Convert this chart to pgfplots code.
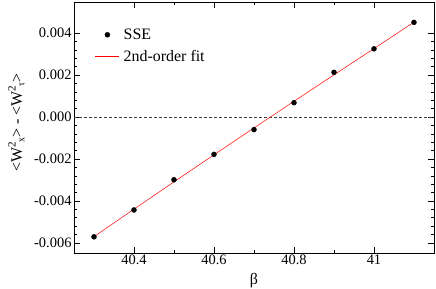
\documentclass[border=0pt]{standalone}
\usepackage{fontspec}
\setmainfont{Liberation Serif}
\usepackage{pgfplots}
\pgfplotsset{compat=1.18}
\pgfplotsset{
  dotleg/.style={legend image code/.code={\path[draw=none,fill=none] (0bp,-1bp) rectangle (24bp,1bp); \fill[black] (12bp,0bp) circle (2.5bp);}},
  lineleg/.style={legend image code/.code={\draw[red, line width=0.5pt] (0bp,0bp) -- (24bp,0bp);}},
}
\newcommand{\Wsq}[1]{W\textsuperscript{2}\kern-0.05em\raisebox{-0.35ex}{\fontsize{10}{10}\selectfont #1}}
\begin{document}
\begin{tikzpicture}
\path[use as bounding box] (-74bp,-36bp) rectangle (362bp,253bp);
\begin{axis}[
  scale only axis, width=360bp, height=251bp,
  at={(0,0)}, anchor=south west,
  xmin=40.25, xmax=41.15, ymin=-0.00648, ymax=0.00548,
  xtick={40.4,40.6,40.8,41}, xticklabels={40.4,40.6,40.8,41},
  ytick={-0.006,-0.004,-0.002,0,0.002,0.004},
  yticklabels={-0.006,-0.004,-0.002,0.000,0.002,0.004},
  minor x tick num=1, minor y tick num=4,
  tick align=inside, tickpos=both,
  major tick length=6bp, minor tick length=3bp,
  tick style={black, line width=0.5pt},
  axis line style={line width=0.6pt},
  ticklabel style={font=\fontsize{14.5}{16}\selectfont},
  xticklabel style={yshift=2bp},
  yticklabel style={xshift=1bp},
  scaled y ticks=false,
  xlabel={β}, ylabel={<\Wsq{x}> - <\Wsq{τ}>},
  label style={font=\fontsize{16}{18}\selectfont},
  xlabel style={at={(axis description cs:0.5,-0.11)}, anchor=center},
  ylabel style={at={(axis description cs:-0.16,0.52)}, anchor=center},
  legend style={at={(rel axis cs:0.05,0.91)}, anchor=north west, draw=none, fill=none,
    font=\fontsize{16}{18}\selectfont, row sep=5bp, column sep=2bp},
  legend cell align=left,
]
\addplot[black!75, dash pattern=on 3bp off 2bp, line width=0.5pt, forget plot] coordinates {(40.25,0) (41.15,0)};
\addplot[only marks, mark=*, mark size=2.5bp, black, dotleg] coordinates {
(40.3,-0.00571) (40.4,-0.00443) (40.5,-0.00299) (40.6,-0.00178) (40.7,-0.00060)
(40.8,0.00068) (40.9,0.00213) (41.0,0.00325) (41.1,0.00451)};
\addlegendentry{SSE}
\addplot[red, line width=0.5pt, lineleg] coordinates {
(40.3,-0.00570) (40.4,-0.00439) (40.5,-0.00309) (40.6,-0.00180) (40.7,-0.00052)
(40.8,0.00075) (40.9,0.00201) (41.0,0.00326) (41.1,0.00452)};
\addlegendentry{2nd-order fit}
\end{axis}
\end{tikzpicture}
\end{document}
